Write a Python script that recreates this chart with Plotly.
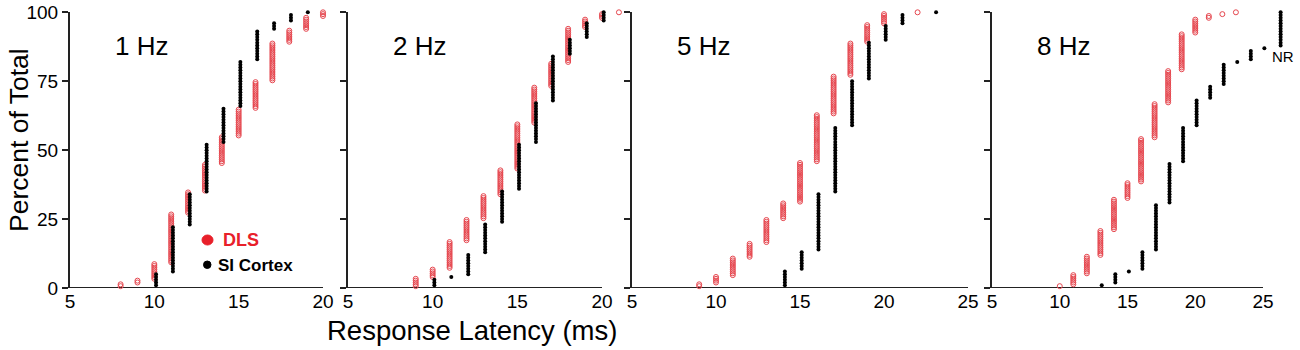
import plotly.graph_objects as go

# ---------------- data ----------------
panel_titles = ["1 Hz", "2 Hz", "5 Hz", "8 Hz"]

dls_latency_1hz = [8, 9, 10, 11, 12, 13, 14, 15, 16, 17, 18, 19, 20]
dls_count_1hz = [2, 2, 9, 27, 12, 15, 15, 15, 15, 21, 7, 7, 3]
ctx_latency_1hz = [10, 11, 12, 13, 14, 15, 16, 17, 18, 19]
ctx_count_1hz = [5, 17, 12, 18, 13, 17, 11, 3, 3, 1]

dls_latency_2hz = [9, 10, 11, 12, 13, 14, 15, 16, 17, 18, 19, 20, 21]
dls_count_2hz = [5, 5, 15, 12, 13, 14, 25, 20, 13, 19, 5, 3, 1]
ctx_latency_2hz = [10, 11, 12, 13, 14, 15, 16, 17, 18, 19, 20]
ctx_count_2hz = [3, 1, 8, 11, 12, 17, 15, 17, 6, 6, 4]

dls_latency_5hz = [9, 10, 11, 12, 13, 14, 15, 16, 17, 18, 19, 20, 22]
dls_count_5hz = [2, 4, 10, 8, 13, 9, 22, 26, 21, 18, 10, 6, 1]
ctx_latency_5hz = [14, 15, 16, 17, 18, 19, 20, 21, 23]
ctx_count_5hz = [6, 7, 21, 24, 17, 14, 6, 4, 1]

dls_latency_8hz = [10, 11, 12, 13, 14, 15, 16, 17, 18, 19, 20, 21, 22, 23]
dls_count_8hz = [1, 6, 10, 14, 17, 9, 24, 19, 18, 20, 8, 2, 1, 1]
ctx_latency_8hz = [13, 14, 15, 16, 17, 18, 19, 20, 21, 22, 23, 24, 25, "NR"]
ctx_count_8hz = [1, 4, 1, 7, 17, 15, 13, 10, 5, 8, 1, 4, 1, 13]

x_ranges = [[5, 20], [5, 20], [5, 25], [5, 25]]
x_tickvals = [[5, 10, 15, 20], [5, 10, 15, 20], [5, 10, 15, 20, 25], [5, 10, 15, 20, 25]]
y_tickvals = [0, 25, 50, 75, 100]

# ---------------- style ----------------
NR_X = 26.3
CTX_OFFSET = 0.1
RED = "#e6474f"
RED_TEXT = "#e8202a"
AXIS_COLOR = "#222222"
FONT = "Liberation Sans, Arial, sans-serif"

W, H = 1300, 350


def px_x(X):
    return X / W


def px_y(Y):
    return 1 - Y / H


x_dom_px = [(70, 323), (348, 602), (632, 968), (992, 1263)]   # axis line extent (px)
data_ext_max = [21.5, 22, 26, 27.5]   # axis range extended for marks beyond the axis line
y_top_px, y_bot_px = 12.3, 288
title_px = [113, 391, 675, 1035]

dls_sets = [(dls_latency_1hz, dls_count_1hz), (dls_latency_2hz, dls_count_2hz),
            (dls_latency_5hz, dls_count_5hz), (dls_latency_8hz, dls_count_8hz)]
ctx_sets = [(ctx_latency_1hz, ctx_count_1hz), (ctx_latency_2hz, ctx_count_2hz),
            (ctx_latency_5hz, ctx_count_5hz), (ctx_latency_8hz, ctx_count_8hz)]


def cumulative_points(latencies, counts, offset=0.0):
    total = sum(counts)
    xs, ys = [], []
    k = 0
    for lat, c in zip(latencies, counts):
        xpos = NR_X if lat == "NR" else lat + offset
        for _ in range(c):
            k += 1
            xs.append(xpos)
            ys.append(100.0 * k / total)
    return xs, ys


fig = go.Figure()
for i in range(4):
    sfx = "" if i == 0 else str(i + 1)
    xa, ya = "x" + sfx, "y" + sfx

    x0, x1 = x_dom_px[i]
    r0, r1 = x_ranges[i]
    ppu = (x1 - x0) / (r1 - r0)
    ext = data_ext_max[i]
    dom_end = x0 + (ext - r0) * ppu

    dx, dy = cumulative_points(*dls_sets[i])
    cx, cy = cumulative_points(*ctx_sets[i], offset=CTX_OFFSET)
    fig.add_trace(go.Scatter(
        x=dx, y=dy, mode="markers", xaxis=xa, yaxis=ya, showlegend=False,
        cliponaxis=False, name="DLS",
        marker=dict(symbol="circle-open", size=5, color=RED, line=dict(width=1, color=RED))))
    fig.add_trace(go.Scatter(
        x=cx, y=cy, mode="markers", xaxis=xa, yaxis=ya, showlegend=False,
        cliponaxis=False, name="SI Cortex",
        marker=dict(symbol="circle", size=4, color="black")))

    fig.layout["xaxis" + sfx] = dict(
        domain=[px_x(x0), px_x(dom_end)], range=[r0, ext], automargin=False,
        anchor=ya, showline=False, showgrid=False, zeroline=False, ticks="",
        tickvals=x_tickvals[i], ticklabeloverflow="allow",
        tickfont=dict(size=19, color="black", family=FONT))
    fig.layout["yaxis" + sfx] = dict(
        domain=[px_y(y_bot_px), px_y(y_top_px)], range=[0, 100], anchor=xa,
        showline=True, automargin=False, ticklabeloverflow="allow",
        linecolor=AXIS_COLOR, linewidth=2, showgrid=False, zeroline=False,
        ticks="outside", ticklen=6, tickwidth=2, tickcolor=AXIS_COLOR,
        tickvals=y_tickvals, showticklabels=(i == 0),
        tickfont=dict(size=19, color="black", family=FONT))
    # x axis line limited to the labelled range
    fig.add_shape(type="line", xref=xa, yref=ya, x0=r0, x1=r1, y0=0, y1=0,
                  line=dict(color=AXIS_COLOR, width=2), layer="below")
    fig.add_annotation(
        text=panel_titles[i], xref="paper", yref="paper",
        x=px_x(title_px[i]), y=px_y(46), xanchor="left", yanchor="middle",
        showarrow=False, font=dict(size=26, color="black", family=FONT))

# NR label
fig.add_annotation(text="NR", xref="paper", yref="paper", x=px_x(1270), y=px_y(57),
                   xanchor="left", yanchor="middle", showarrow=False,
                   font=dict(size=15, color="black", family=FONT))

# legend (inside panel 1)
fig.add_shape(type="circle", xref="paper", yref="paper",
              x0=px_x(202), x1=px_x(213), y0=px_y(245), y1=px_y(235),
              fillcolor="#e8202a", line=dict(color="#e8202a", width=1))
fig.add_shape(type="circle", xref="paper", yref="paper",
              x0=px_x(203.5), x1=px_x(211), y0=px_y(268.5), y1=px_y(261),
              fillcolor="black", line=dict(color="black", width=1))
fig.add_annotation(text="<b>DLS</b>", xref="paper", yref="paper", x=px_x(221), y=px_y(240),
                   xanchor="left", yanchor="middle", showarrow=False,
                   font=dict(size=18, color=RED_TEXT, family=FONT))
fig.add_annotation(text="<b>SI Cortex</b>", xref="paper", yref="paper", x=px_x(216), y=px_y(265),
                   xanchor="left", yanchor="middle", showarrow=False,
                   font=dict(size=17, color="black", family=FONT))

# axis titles
fig.add_annotation(text="Percent of Total", xref="paper", yref="paper", x=px_x(19), y=px_y(140),
                   xanchor="center", yanchor="middle", textangle=-90, showarrow=False,
                   font=dict(size=26.5, color="black", family=FONT))
fig.add_annotation(text="Response Latency (ms)", xref="paper", yref="paper", x=px_x(472), y=px_y(330),
                   xanchor="center", yanchor="middle", showarrow=False,
                   font=dict(size=27.5, color="black", family=FONT))

fig.update_layout(width=W, height=H, autosize=False,
                  margin=dict(l=0, r=0, t=0, b=0, pad=0),
                  paper_bgcolor="white", plot_bgcolor="rgba(0,0,0,0)")

fig.write_html("out.html", config={"displayModeBar": False},
               post_script="document.body.style.margin='0px';document.body.style.padding='0px';")
